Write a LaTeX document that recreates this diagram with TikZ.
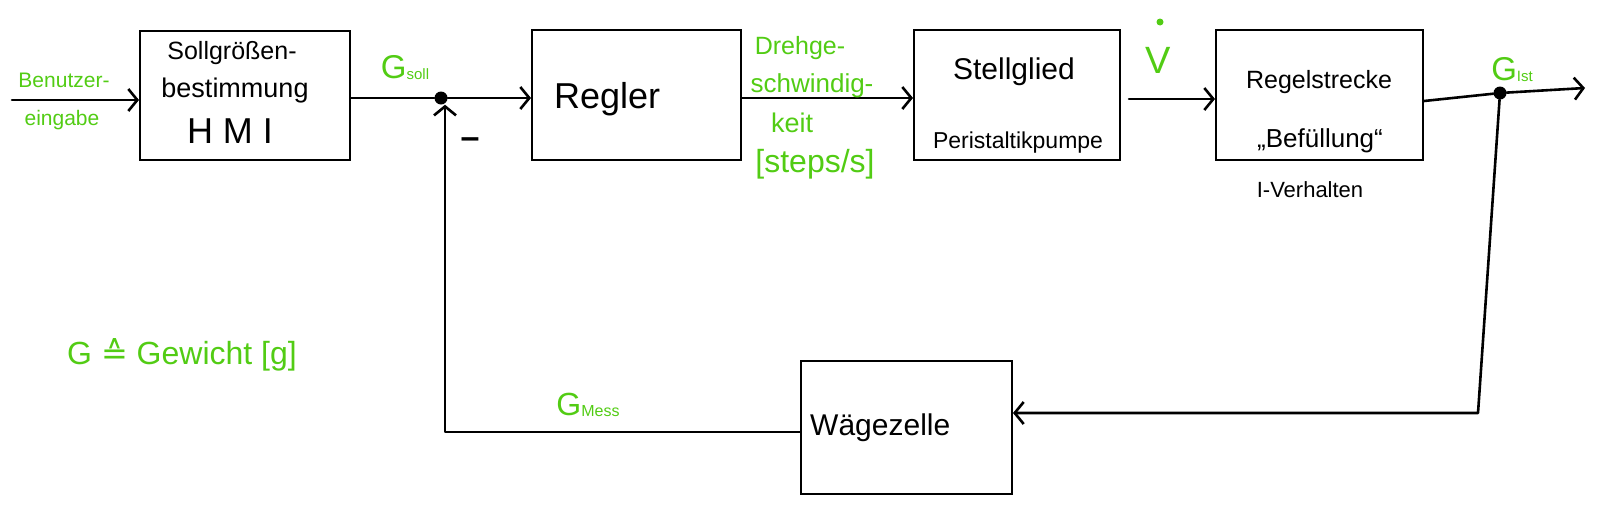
\documentclass[tikz,border=0pt]{standalone}
\usepackage{fontspec}
\setmainfont{Liberation Sans}
\newfontfamily\symfont{DejaVu Sans}
\usetikzlibrary{arrows.meta}
\definecolor{hgreen}{RGB}{82,204,20}
\begin{document}
\begin{tikzpicture}[x=1pt,y=-1pt,
  blk/.style={draw,line width=2pt,inner sep=0pt},
  con/.style={line width=2.6pt,line cap=round,line join=round},
  arr/.style={con,-{Straight Barb[length=9pt,width=22pt,line width=2.6pt]}},
  sumpt/.style={circle,fill=black,inner sep=0pt,minimum size=13pt},
  gl/.style={text=hgreen,inner sep=0pt},
  bl/.style={text=black,inner sep=0pt},
  fs/.style={font=\fontsize{#1}{#1}\selectfont}]
\useasboundingbox (0,0) rectangle (1600,504);
% blocks
\node[blk,minimum width=210pt,minimum height=129pt] (hmi) at (245,95.5) {};
\node[blk,minimum width=209pt,minimum height=130pt] (regler) at (636.5,95) {};
\node[blk,minimum width=206pt,minimum height=130pt] (stell) at (1017,95) {};
\node[blk,minimum width=207pt,minimum height=130pt] (strecke) at (1319.5,95) {};
\node[blk,minimum width=211pt,minimum height=133pt] (waege) at (906.5,427.5) {};
% block texts
\node[bl,fs=25] (t1) at (232,53) {Sollgrößen-};
\node[bl,fs=27] (t2) at (235,91) {bestimmung};
\node[bl,fs=36] (t3) at (230,131) {H M I};
\node[bl,fs=36,anchor=west] (t4) at (554,99) {Regler};
\node[bl,fs=30] (t5) at (1014,72) {Stellglied};
\node[bl,fs=23] (t6) at (1018,143) {Peristaltikpumpe};
\node[bl,fs=25] (t7) at (1319,82) {Regelstrecke};
\node[bl,fs=26] (t8) at (1320,141) {„Befüllung“};
\node[bl,fs=30,anchor=west] (t9) at (810,428) {Wägezelle};
\node[bl,fs=22] (t10) at (1310,190) {I-Verhalten};
% summing points
\node[sumpt] (s1) at (441,98) {};
\node[sumpt] (s2) at (1500,93) {};
% coordinates
\coordinate (in) at (12,100);
\coordinate (out) at (1585,88);
\coordinate (c1) at (1478,413);
\coordinate (c2) at (445,432);
% connectors
\draw[arr] (in) -- (in -| hmi.west);
\draw[con] (hmi.east |- s1) -- (s1);
\draw[arr] (s1) -- (s1 -| regler.west);
\draw[arr] (regler.east |- 0,98) -- (stell.west |- 0,98);
\draw[arr,shorten <=8pt] (stell.east |- 0,99) -- (strecke.west |- 0,99);
\draw[con] (strecke.east |- 0,101) -- (s2);
\draw[arr] (s2) -- (out);
\draw[arr] (s2) -- (c1) -- (c1 -| waege.east);
\draw[arr] (waege.west |- c2) -- (c2) -- (c2 |- s1.south);
% signal labels
\node[gl,fs=21] (l1) at (64,80) {Benutzer-};
\node[gl,fs=21] (l2) at (62,120) {eingabe};
\node[gl,fs=33] (l3) at (405,68) {G\raisebox{-1pt}{\fontsize{15}{15}\selectfont soll}};
\node[bl,fs=34] (minus) at (470,143) {\textbf{–}};
\node[gl,fs=25] (l4) at (800,48) {Drehge-};
\node[gl,fs=26] (l5) at (812,86) {schwindig-};
\node[gl,fs=27] (l6) at (792,123) {keit};
\node[gl,fs=32] (l7) at (815,164) {[steps/s]};
\node[gl,fs=38] (l8) at (1158,60) {V};
\fill[hgreen] (1160,22) circle (3.5pt);
\node[gl,fs=33] (l9) at (1512,70) {G\raisebox{-1pt}{\fontsize{15}{15}\selectfont Ist}};
\node[gl,fs=32] (l10) at (182,355) {G {\symfont ≙} Gewicht [g]};
\node[gl,fs=32] (l11) at (588,405) {G\raisebox{-1pt}{\fontsize{16}{16}\selectfont Mess}};
\end{tikzpicture}
\end{document}
